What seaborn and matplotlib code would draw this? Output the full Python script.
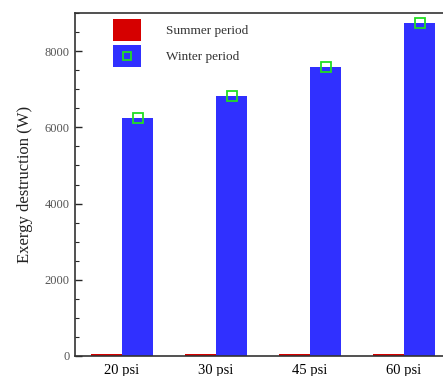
import matplotlib
matplotlib.use("Agg")
import matplotlib.pyplot as plt
from matplotlib.patches import Patch, Rectangle
from matplotlib.legend_handler import HandlerTuple, HandlerPatch
from matplotlib.ticker import MultipleLocator
import numpy as np
import seaborn as sns
import pandas as pd

# data
pressures = ['20 psi', '30 psi', '45 psi', '60 psi']
summer = [40, 40, 60, 60]
winter = [6250, 6810, 7590, 8750]

data = pd.DataFrame({
    'pressure': pressures * 2,
    'period': ['Summer period'] * 4 + ['Winter period'] * 4,
    'value': summer + winter,
})

sns.set_theme(style='white')
plt.rcParams['font.family'] = ['Liberation Serif', 'DejaVu Serif']

fig = plt.figure(figsize=(4.43, 3.76), dpi=100)
W, H = 443, 376
ax = fig.add_axes([75 / W, 1 - 356 / H, (451 - 75) / W, (356 - 13) / H])

red = '#d60000'
blue = '#3030ff'
green = '#22dd22'

sns.barplot(data=data, x='pressure', y='value', hue='period',
            palette=[red, blue], width=0.66, saturation=1, ax=ax,
            legend=False, edgecolor='none')

# green hollow squares at the winter bar tops
wx = [p.get_x() + p.get_width() / 2 for p in ax.containers[1]]
ax.plot(wx, winter, linestyle='none', marker='s', markersize=6.5,
        markerfacecolor='none', markeredgecolor=green, markeredgewidth=1.3)

ax.set_xlim(-0.5, 3.5)
ax.set_ylim(0, 9000)
ax.yaxis.set_major_locator(MultipleLocator(2000))
ax.yaxis.set_minor_locator(MultipleLocator(500))
ax.tick_params(axis='y', which='major', direction='in', length=5, width=1,
               left=True, labelsize=9, labelcolor='#555555', pad=4)
ax.tick_params(axis='y', which='minor', direction='in', length=3, width=0.8, left=True)
ax.tick_params(axis='x', which='both', bottom=False, labelsize=10.5,
               labelcolor='black', pad=0)
ax.set_xlabel('')
ax.set_ylabel('Exergy destruction (W)', fontsize=12, color='#222222', labelpad=8)

for side in ['left', 'top', 'right', 'bottom']:
    ax.spines[side].set_color('#333333')
    ax.spines[side].set_linewidth(1.2)


# hollow square centred in the legend handle box
def centred_square(legend, orig_handle, xdescent, ydescent, width, height, fontsize):
    s = 5.5
    cx = -xdescent + width / 2
    cy = -ydescent + height / 2
    return Rectangle((cx - s / 2, cy - s / 2), s, s)


square = Patch(facecolor='none', edgecolor=green, linewidth=1.3)
handles = [
    Patch(facecolor=red, edgecolor='none'),
    (Patch(facecolor=blue, edgecolor='none'), square),
]
leg = ax.legend(handles, ['Summer period', 'Winter period'],
                handler_map={tuple: HandlerTuple(ndivide=1, pad=0),
                             square: HandlerPatch(patch_func=centred_square)},
                loc='upper left', bbox_to_anchor=(0.087, 0.997), frameon=False,
                fontsize=9.5, handlelength=2.1, handleheight=2.15,
                handletextpad=1.9, labelspacing=0.3, borderaxespad=0)
for t in leg.get_texts():
    t.set_color('#333333')

fig.savefig('out.png', dpi=100)
